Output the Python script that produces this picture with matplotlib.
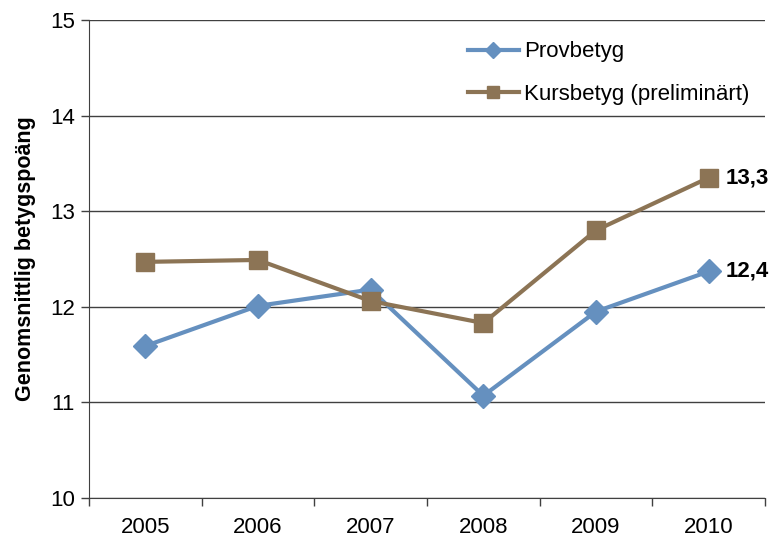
import matplotlib
matplotlib.use("Agg")
import matplotlib.pyplot as plt

years = ["2005", "2006", "2007", "2008", "2009", "2010"]
provbetyg = [11.59, 12.01, 12.18, 11.07, 11.95, 12.37]
kursbetyg = [12.47, 12.49, 12.06, 11.83, 12.80, 13.35]
end_labels = ["12,4", "13,3"]

plt.rcParams['font.family'] = ['Liberation Sans', 'DejaVu Sans']

blue = "#6590BF"
brown = "#8C7455"

fig = plt.figure(figsize=(7.71, 5.42), dpi=100)
ax = fig.add_axes([89/771, 1-498/542, 676/771, 478/542])

x = list(range(len(years)))
ax.plot(x, provbetyg, color=blue, lw=3, marker='D', ms=12, label="Provbetyg", zorder=3)
ax.plot(x, kursbetyg, color=brown, lw=3, marker='s', ms=13, label="Kursbetyg (preliminärt)", zorder=3)

ax.set_xlim(-0.5, len(years)-0.5)
ax.set_ylim(10, 15)
ax.set_yticks([10, 11, 12, 13, 14, 15])
ax.set_xticks(x)
ax.set_xticklabels(years)
ax.set_xticks([i - 0.5 for i in range(len(years)+1)], minor=True)
ax.tick_params(axis='x', which='major', length=0, pad=14, labelsize=16)
ax.tick_params(axis='x', which='minor', length=6, width=1, color='#404040')
ax.tick_params(axis='y', length=6, width=1, color='#404040', labelsize=16, pad=4)
ax.yaxis.grid(True, color='#404040', lw=1)
ax.set_axisbelow(True)
for s in ['top', 'right']:
    ax.spines[s].set_visible(False)
for s in ['left', 'bottom']:
    ax.spines[s].set_color('#404040')

ax.set_ylabel("Genomsnittlig betygspoäng", fontsize=15.5, fontweight='bold', labelpad=10)

ax.annotate(end_labels[0], (x[-1], provbetyg[-1]), xytext=(12, 0), textcoords='offset points',
            va='center', ha='left', fontsize=16, fontweight='bold')
ax.annotate(end_labels[1], (x[-1], kursbetyg[-1]), xytext=(12, 0), textcoords='offset points',
            va='center', ha='left', fontsize=16, fontweight='bold')

leg = ax.legend(loc='upper right', bbox_to_anchor=(1.007, 0.997), frameon=False, fontsize=16,
                handlelength=2.3, labelspacing=0.95, markerscale=0.7, handletextpad=0.25)

fig.savefig("out.png", dpi=100)
